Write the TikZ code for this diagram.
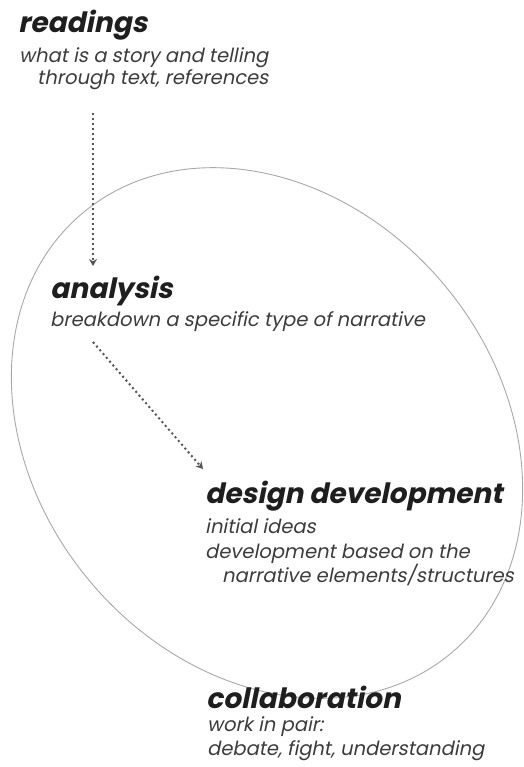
\documentclass[tikz,border=0pt]{standalone}
\usepackage{fontspec}
\newfontfamily\headfont{Poppins}[FakeSlant=0.2]
\newfontfamily\notefont{Poppins}[FakeSlant=0.2]
\usetikzlibrary{arrows.meta}
\definecolor{inkdark}{HTML}{1E1E1E}
\definecolor{inkgrey}{HTML}{3C3C3C}
\definecolor{ringgrey}{HTML}{A8A8A8}
\definecolor{dotgrey}{HTML}{555555}
\tikzset{
	head/.style={anchor=base west,inner sep=0pt,text=inkdark,font=\headfont\bfseries\fontsize{28}{28}\selectfont},
	note/.style={anchor=base west,inner sep=0pt,text=inkgrey,font=\notefont\fontsize{19.5}{19.5}\selectfont},
	flow/.style={dotgrey,line width=2pt,dash pattern=on 2pt off 3pt,-{Stealth[length=7pt,width=8pt]}},
}

\begin{document}
\begin{tikzpicture}[x=1pt,y=-1pt]
	\useasboundingbox (0,0) rectangle (523,767);
	\draw[ringgrey,line width=0.9pt,rotate around={-50:(267,433)}] (267,433) ellipse [x radius=287,y radius=231];

	\node[head] (readings) at (18,33) {readings};
	\node[note] (readings1) at (19,63) {what is a story and telling};
	\node[note] (readings2) at (37,85) {through text, references};

	\node[head] (analysis) at (50,298) {analysis};
	\node[note] (analysis1) at (50,326) {breakdown a specific type of narrative};

	\node[head] (design) at (205,503) {design development};
	\node[note] (design1) at (205,533) {initial ideas};
	\node[note] (design2) at (205,558) {development based on the};
	\node[note] (design3) at (222,582) {narrative elements/structures};

	\node[head] (collab) at (206,708) {collaboration};
	\node[note] (collab1) at (207,731) {work in pair:};
	\node[note] (collab2) at (207,755) {debate, fight, understanding};

	\coordinate (readout) at (93,113);
	\coordinate (anain) at (93,266);
	\coordinate (anaout) at (93,342);
	\coordinate (desin) at (203,469);
	\draw[flow] (readout) -- (anain);
	\draw[flow] (anaout) -- (desin);
\end{tikzpicture}
\end{document}
